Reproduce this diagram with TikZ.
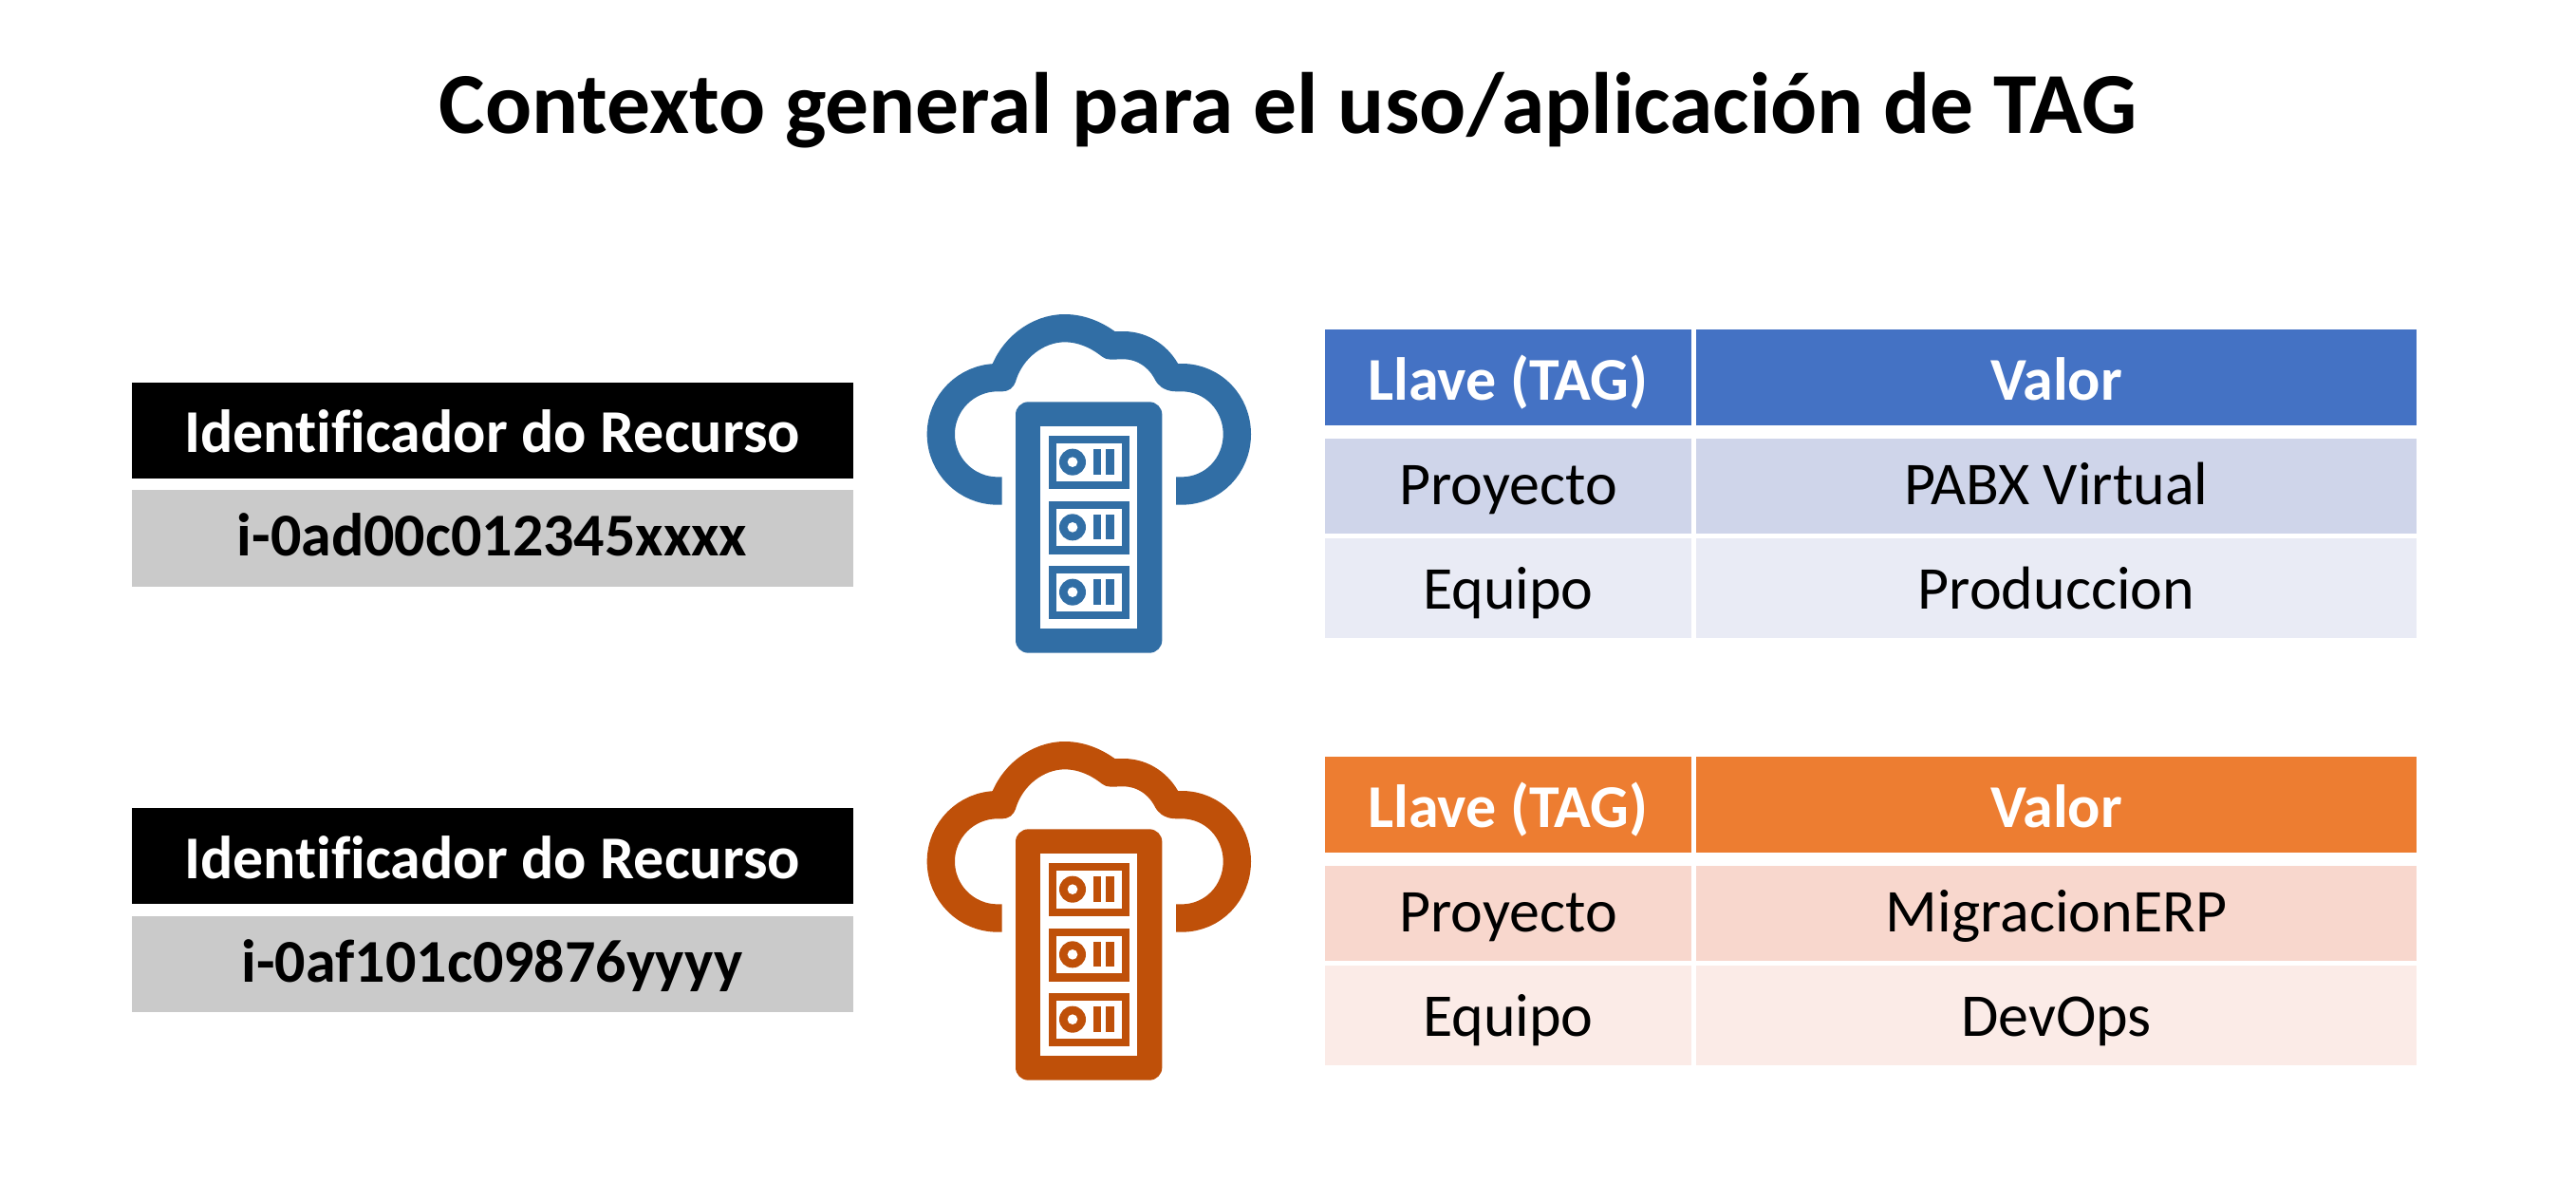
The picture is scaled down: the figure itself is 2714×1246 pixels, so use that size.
\documentclass[tikz,border=0pt]{standalone}
\usepackage{fontspec}
\setmainfont{Carlito}[Ligatures=NoCommon]
\definecolor{tagblue}{HTML}{4472C4}
\definecolor{tagbluea}{HTML}{CFD5EA}
\definecolor{tagblueb}{HTML}{E9EBF5}
\definecolor{tagorange}{HTML}{ED7D31}
\definecolor{tagorangea}{HTML}{F8D7CD}
\definecolor{tagorangeb}{HTML}{FBEBE7}
\definecolor{iconblue}{HTML}{316EA5}
\definecolor{iconorange}{HTML}{BF5009}
\definecolor{idgray}{HTML}{CACACA}
\tikzset{
	titletext/.style={inner sep=0pt, font=\fontsize{68.7}{82}\selectfont\bfseries},
	idhead/.style={inner sep=0pt, minimum width=570pt, text=white, fill=black,
		text height=55.5pt, text depth=20.25pt, font=\fontsize{48}{58}\selectfont\bfseries},
	idvalue/.style={inner sep=0pt, minimum width=570pt, fill=idgray,
		text height=52pt, text depth=24pt, font=\fontsize{48}{58}\selectfont\bfseries},
	tagcell/.style={inner sep=0pt, minimum width=#1, font=\fontsize{48}{58}\selectfont},
	headcell/.style={tagcell=#1, text=white, text height=55.5pt, text depth=20.25pt,
		font=\fontsize{48}{58}\selectfont\bfseries},
	rowa/.style={tagcell=#1, text height=52pt, text depth=23pt},
	rowb/.style={tagcell=#1, text height=56pt, text depth=22.75pt},
	pics/serverslot/.style={code={
		\fill [#1] (465,477) rectangle (719,645);
		\fill [white] (488,501) rectangle (695,620);
		\fill [#1] (540,560) circle [radius=42];
		\fill [white] (540,560) circle [radius=16];
		\fill [#1] (605,520) rectangle (631,599);
		\fill [#1] (645,520) rectangle (671,599);
	}},
	pics/cloudserver/.style={code={
		\begin{scope}[x=0.25pt,y=-0.25pt]
		\draw [#1, line width=22pt, line join=round]
			(317,651) -- (303,651) .. controls (204,651) and (124,571) .. (124,472)
			.. controls (124,373) and (204,293) .. (303,293) -- (318,293)
			.. controls (345,200) and (430,137) .. (515,137)
			.. controls (570,137) and (620,160) .. (660,192)
			.. controls (672,192) and (685,191) .. (700,191)
			.. controls (765,191) and (815,230) .. (840,280)
			.. controls (845,290) and (855,293) .. (870,293) -- (885,293)
			.. controls (984,293) and (1060,373) .. (1060,472)
			.. controls (1060,571) and (984,651) .. (885,651) -- (867,651);
		\fill [#1, rounded corners=10pt] (360,370) rectangle (823,1163);
		\fill [white] (438,446) rectangle (745,1087);
		\pic at (0,0) {serverslot=#1};
		\pic at (0,206) {serverslot=#1};
		\pic at (0,411) {serverslot=#1};
		\end{scope}
	}}
}
\begin{document}
\begin{tikzpicture}[x=0.75pt,y=0.75pt,yscale=-1,xscale=1]
\useasboundingbox (0,0) rectangle (2714,1246);

\node [titletext] (title) at (1357,116) {Contexto general para el uso/aplicación de TAG};

% resource one
\node [idhead] (idheadone) at (518.5,453) {Identificador do Recurso};
\node [idvalue] (idvalueone) at (518.5,567) {i-0ad00c012345xxxx};
\pic at (950,300) {cloudserver=iconblue};
\node [headcell=289.5pt, fill=tagblue] (keyheadone) at (1589,397.5) {Llave (TAG)};
\node [headcell=569.25pt, fill=tagblue] (valheadone) at (2166.5,397.5) {Valor};
\node [rowa=289.5pt, fill=tagbluea] (keyprojone) at (1589,512) {Proyecto};
\node [rowa=569.25pt, fill=tagbluea] (valprojone) at (2166.5,512) {PABX Virtual};
\node [rowb=289.5pt, fill=tagblueb] (keyteamone) at (1589,619.5) {Equipo};
\node [rowb=569.25pt, fill=tagblueb] (valteamone) at (2166.5,619.5) {Produccion};

% resource two
\node [idhead] (idheadtwo) at (518.5,901.5) {Identificador do Recurso};
\node [idvalue] (idvaluetwo) at (518.5,1015.5) {i-0af101c09876yyyy};
\pic at (950,750) {cloudserver=iconorange};
\node [headcell=289.5pt, fill=tagorange] (keyheadtwo) at (1589,847.5) {Llave (TAG)};
\node [headcell=569.25pt, fill=tagorange] (valheadtwo) at (2166.5,847.5) {Valor};
\node [rowa=289.5pt, fill=tagorangea] (keyprojtwo) at (1589,962) {Proyecto};
\node [rowa=569.25pt, fill=tagorangea] (valprojtwo) at (2166.5,962) {MigracionERP};
\node [rowb=289.5pt, fill=tagorangeb] (keyteamtwo) at (1589,1069.5) {Equipo};
\node [rowb=569.25pt, fill=tagorangeb] (valteamtwo) at (2166.5,1069.5) {DevOps};
\end{tikzpicture}
\end{document}
